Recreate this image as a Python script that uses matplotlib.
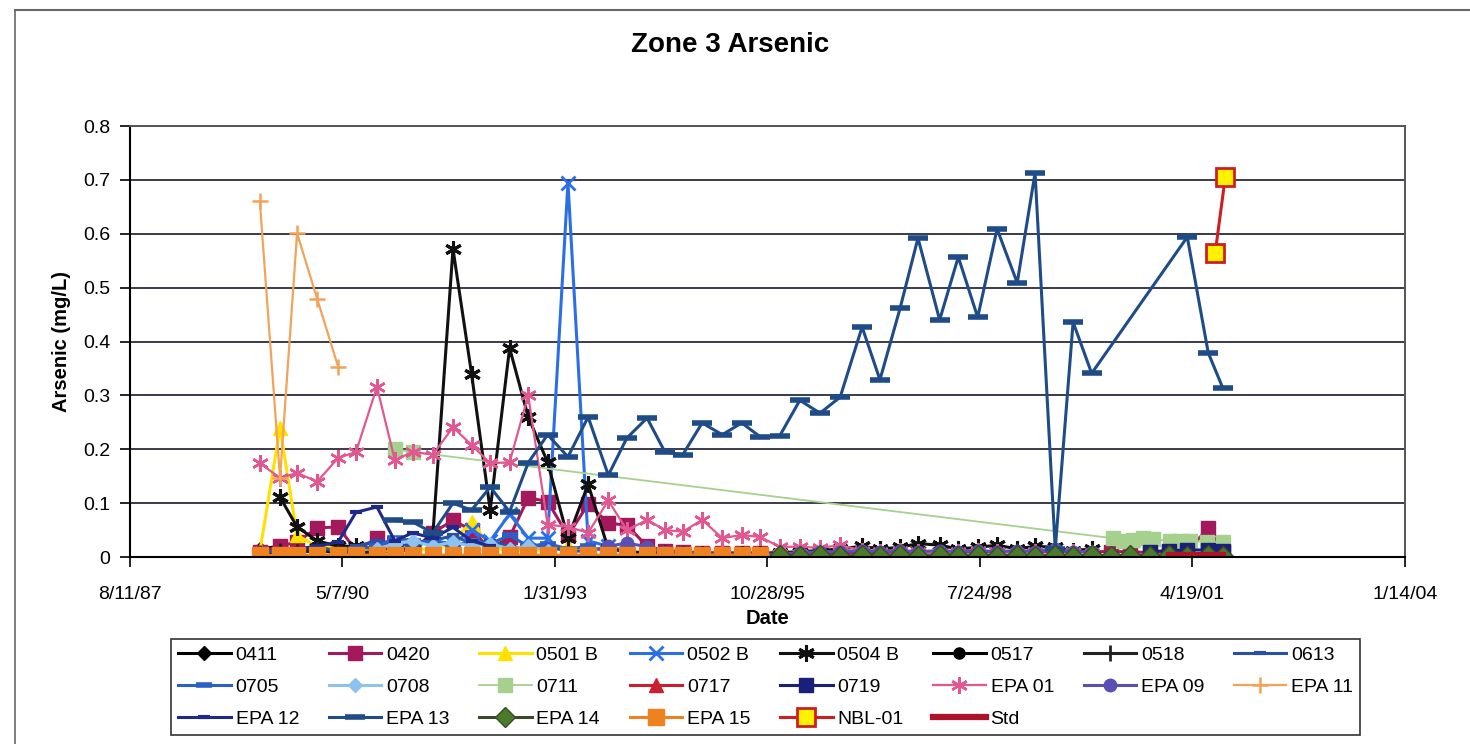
import datetime as dt
import matplotlib
matplotlib.use("Agg")
import matplotlib.pyplot as plt
import matplotlib.dates as mdates
from matplotlib.lines import Line2D

plt.rcParams["font.family"] = ["Liberation Sans", "DejaVu Sans"]

# sample dates are kept as decimal years, values in mg/L
d_0411 = [1989.28, 1989.54, 1989.76, 1990.02, 1990.29, 1990.52, 1990.79, 1991.02]
v_0411 = [0.015, 0.020, 0.012, 0.010, 0.015, 0.010, 0.012, 0.010]

d_0420 = [1989.28, 1989.54, 1989.76, 1990.02, 1990.29, 1990.52, 1990.79, 1991.02, 1991.25,
          1991.51, 1991.77, 1992.01, 1992.25, 1992.50, 1992.74, 1992.99, 1993.25, 1993.51,
          1993.77, 1994.01, 1994.27, 1994.50, 1994.73, 1994.98, 1995.24, 1995.49, 1995.73,
          2000.25, 2000.50, 2000.75, 2001.00, 2001.23, 2001.50, 2001.69]
v_0420 = [0.010, 0.020, 0.028, 0.054, 0.056, 0.012, 0.035, 0.012, 0.012,
          0.045, 0.068, 0.050, 0.015, 0.037, 0.110, 0.103, 0.040, 0.098,
          0.063, 0.059, 0.020, 0.012, 0.010, 0.008, 0.008, 0.008, 0.008,
          0.010, 0.010, 0.008, 0.010, 0.010, 0.054, 0.010]

d_0501b = [1989.28, 1989.54, 1989.76, 1990.02, 1990.29, 1990.52, 1990.79, 1991.02, 1991.25,
           1991.51, 1991.77, 1992.01, 1992.25, 1992.50, 1992.74, 1992.99, 1993.25, 1993.51]
v_0501b = [0.010, 0.240, 0.040, 0.020, 0.020, 0.010, 0.015, 0.010, 0.020,
           0.010, 0.030, 0.065, 0.020, 0.010, 0.015, 0.010, 0.020, 0.010]

d_0502b = [1991.25, 1991.51, 1991.77, 1992.01, 1992.25, 1992.50, 1992.74, 1992.99,
           1993.25, 1993.51, 1993.77, 1994.01]
v_0502b = [0.020, 0.030, 0.025, 0.050, 0.030, 0.080, 0.035, 0.035,
           0.695, 0.030, 0.020, 0.010]

d_0504b = [1989.54, 1989.76, 1990.02, 1990.29, 1990.52, 1990.79, 1991.02, 1991.25, 1991.51,
           1991.77, 1992.01, 1992.25, 1992.50, 1992.74, 1992.99, 1993.25, 1993.51, 1993.77,
           1994.01, 1994.27, 1994.50, 1994.73, 1994.98, 1995.24, 1995.49, 1995.73, 1995.98,
           1996.24, 1996.50, 1996.76, 1997.04, 1997.27, 1997.53, 1997.76, 1998.04, 1998.28,
           1998.53, 1998.78, 1999.04, 1999.27, 1999.53, 1999.76, 2000.00]
v_0504b = [0.111, 0.056, 0.030, 0.020, 0.020, 0.015, 0.015, 0.015, 0.040,
           0.572, 0.340, 0.087, 0.388, 0.260, 0.176, 0.035, 0.135, 0.015,
           0.010, 0.008, 0.008, 0.006, 0.006, 0.006, 0.006, 0.005, 0.008,
           0.010, 0.012, 0.015, 0.020, 0.015, 0.018, 0.025, 0.022, 0.015,
           0.018, 0.022, 0.015, 0.020, 0.018, 0.012, 0.015]

d_0517 = [1989.28, 1989.54, 1989.76, 1990.02, 1990.29, 1990.52, 1990.79]
v_0517 = [0.005, 0.008, 0.010, 0.012, 0.008, 0.010, 0.006]

d_0518 = [1989.28, 1989.54, 1989.76, 1990.02, 1990.29, 1990.52, 1990.79]
v_0518 = [0.008, 0.012, 0.010, 0.015, 0.010, 0.008, 0.010]

d_0613 = [1989.28, 1989.54, 1989.76, 1990.02, 1990.29, 1990.52, 1990.79, 1991.02, 1991.25,
          1991.51, 1991.77, 1992.01, 1992.25, 1992.50, 1992.74, 1992.99, 1993.25, 1993.51]
v_0613 = [0.008, 0.012, 0.015, 0.020, 0.010, 0.020, 0.030, 0.025, 0.020,
          0.030, 0.040, 0.025, 0.030, 0.020, 0.015, 0.020, 0.010, 0.012]

d_0705 = [1990.52, 1990.79, 1991.02, 1991.25, 1991.51, 1991.77, 1992.01, 1992.25, 1992.50,
          1992.74, 1992.99, 1993.25, 1993.51, 1993.77]
v_0705 = [0.015, 0.020, 0.035, 0.030, 0.028, 0.020, 0.030, 0.025, 0.040,
          0.020, 0.025, 0.015, 0.020, 0.010]

d_0708 = [1990.79, 1991.02, 1991.25, 1991.51, 1991.77, 1992.01, 1992.25, 1992.50, 1992.74,
          1992.99]
v_0708 = [0.015, 0.025, 0.030, 0.020, 0.028, 0.020, 0.025, 0.015, 0.020, 0.012]

d_0711 = [1991.02, 1991.25, 2000.27, 2000.40, 2000.53, 2000.66, 2000.79, 2001.01, 2001.14,
          2001.27, 2001.48, 2001.69]
v_0711 = [0.200, 0.195, 0.035, 0.030, 0.032, 0.035, 0.033, 0.030, 0.030,
          0.030, 0.028, 0.028]

d_0717 = [2000.25, 2000.50, 2000.75, 2001.00, 2001.23, 2001.50, 2001.69]
v_0717 = [0.003, 0.003, 0.002, 0.003, 0.003, 0.002, 0.003]

d_0719 = [2000.75, 2001.00, 2001.23, 2001.50, 2001.69]
v_0719 = [0.010, 0.012, 0.013, 0.013, 0.012]

d_epa01 = [1989.28, 1989.54, 1989.76, 1990.02, 1990.29, 1990.52, 1990.79, 1991.02, 1991.25,
           1991.51, 1991.77, 1992.01, 1992.25, 1992.50, 1992.74, 1992.99, 1993.25, 1993.51,
           1993.77, 1994.01, 1994.27, 1994.50, 1994.73, 1994.98, 1995.24, 1995.49, 1995.73,
           1995.98, 1996.24, 1996.50, 1996.76, 1997.04, 1997.27, 1997.53, 1997.76, 1998.04,
           1998.28, 1998.53, 1998.78, 1999.04, 1999.27, 1999.53, 1999.76, 2000.00]
v_epa01 = [0.174, 0.147, 0.156, 0.140, 0.184, 0.195, 0.316, 0.180, 0.195,
           0.190, 0.241, 0.208, 0.174, 0.176, 0.300, 0.060, 0.056, 0.045,
           0.105, 0.050, 0.069, 0.050, 0.047, 0.069, 0.035, 0.041, 0.037,
           0.019, 0.019, 0.017, 0.022, 0.012, 0.010, 0.012, 0.010, 0.008,
           0.010, 0.012, 0.010, 0.008, 0.010, 0.012, 0.010, 0.008]

d_epa09 = [1993.51, 1993.77, 1994.01, 1994.27, 1994.50, 1994.73, 1994.98, 1995.24, 1995.49,
           1995.73, 1995.98, 1996.24, 1996.50, 1996.76, 1997.04, 1997.27, 1997.53, 1997.76,
           1998.04, 1998.28, 1998.53, 1998.78, 1999.04, 1999.27, 1999.53, 1999.76, 2000.00]
v_epa09 = [0.010, 0.020, 0.026, 0.019, 0.010, 0.008, 0.006, 0.006, 0.005,
           0.005, 0.006, 0.008, 0.010, 0.010, 0.012, 0.010, 0.012, 0.010,
           0.012, 0.010, 0.012, 0.010, 0.012, 0.010, 0.015, 0.010, 0.010]

d_epa11 = [1989.28, 1989.54, 1989.76, 1990.02, 1990.29]
v_epa11 = [0.660, 0.147, 0.601, 0.479, 0.353]

d_epa12 = [1989.54, 1989.76, 1990.02, 1990.29, 1990.52, 1990.79, 1991.02, 1991.25, 1991.51,
           1991.77, 1992.01, 1992.25]
v_epa12 = [0.010, 0.015, 0.020, 0.028, 0.083, 0.093, 0.030, 0.045, 0.035,
           0.055, 0.030, 0.020]

d_epa13 = [1991.00, 1991.25, 1991.51, 1991.77, 1992.01, 1992.25, 1992.50, 1992.74, 1992.99,
           1993.25, 1993.51, 1993.77, 1994.01, 1994.27, 1994.50, 1994.73, 1994.98, 1995.24,
           1995.49, 1995.73, 1995.98, 1996.24, 1996.50, 1996.76, 1997.04, 1997.27, 1997.53,
           1997.76, 1998.04, 1998.28, 1998.53, 1998.78, 1999.04, 1999.27, 1999.53, 1999.76,
           2000.00, 2001.23, 2001.50, 2001.69]
v_epa13 = [0.068, 0.065, 0.045, 0.100, 0.087, 0.130, 0.084, 0.175, 0.227,
           0.186, 0.260, 0.152, 0.221, 0.258, 0.195, 0.190, 0.249, 0.227,
           0.249, 0.223, 0.225, 0.291, 0.267, 0.297, 0.427, 0.329, 0.462,
           0.592, 0.440, 0.557, 0.445, 0.609, 0.509, 0.713, 0.015, 0.436,
           0.341, 0.594, 0.379, 0.313]

d_epa14 = [1995.98, 1996.24, 1996.50, 1996.76, 1997.04, 1997.27, 1997.53, 1997.76, 1998.04,
           1998.28, 1998.53, 1998.78, 1999.04, 1999.27, 1999.53, 1999.76, 2000.00, 2000.25,
           2000.50, 2000.75, 2001.00, 2001.23, 2001.50, 2001.69]
v_epa14 = [0.003, 0.002, 0.003, 0.002, 0.003, 0.002, 0.003, 0.002, 0.003,
           0.002, 0.003, 0.002, 0.003, 0.002, 0.003, 0.002, 0.003, 0.002,
           0.003, 0.002, 0.003, 0.002, 0.003, 0.002]

d_epa15 = [1989.28, 1989.54, 1989.76, 1990.02, 1990.29, 1990.52, 1990.79, 1991.02, 1991.25,
           1991.51, 1991.77, 1992.01, 1992.25, 1992.50, 1992.74, 1992.99, 1993.25, 1993.51,
           1993.77, 1994.01, 1994.27, 1994.50, 1994.73, 1994.98, 1995.24, 1995.49, 1995.73]
v_epa15 = [0.004, 0.003, 0.004, 0.003, 0.004, 0.003, 0.004, 0.003, 0.004,
           0.003, 0.004, 0.003, 0.004, 0.003, 0.004, 0.003, 0.004, 0.003,
           0.004, 0.003, 0.004, 0.003, 0.004, 0.003, 0.004, 0.003, 0.004]

d_nbl01 = [2001.59, 2001.72]
v_nbl01 = [0.565, 0.706]

d_std = [2001.00, 2001.69]
v_std = [0.004, 0.004]

# legend rows as they appear in the chart
legend_rows = [
    ["0411", "0420", "0501 B", "0502 B", "0504 B", "0517", "0518", "0613"],
    ["0705", "0708", "0711", "0717", "0719", "EPA 01", "EPA 09", "EPA 11"],
    ["EPA 12", "EPA 13", "EPA 14", "EPA 15", "NBL-01", "Std"],
]

asterisk = (6, 2, 0)


def to_date(year):
    y = int(year)
    return dt.datetime(y, 1, 1) + dt.timedelta(days=(year - y) * 365.25)


fig = plt.figure(figsize=(14.7, 7.44), dpi=100)
ax = fig.add_axes([0.0884, 0.2513, 0.8673, 0.5793])

series = [
    ("0411", d_0411, v_0411, dict(color="black", marker="D", ms=7)),
    ("0420", d_0420, v_0420, dict(color="#A3195B", marker="s", ms=10)),
    ("0501 B", d_0501b, v_0501b, dict(color="#FFE100", marker="^", ms=10)),
    ("0502 B", d_0502b, v_0502b, dict(color="#2A6FE8", marker="x", ms=10, mew=2)),
    ("0504 B", d_0504b, v_0504b, dict(color="#111111", marker=asterisk, ms=12, mew=2.2)),
    ("0517", d_0517, v_0517, dict(color="black", marker="o", ms=8)),
    ("0518", d_0518, v_0518, dict(color="#222222", marker="|", ms=12, mew=2)),
    ("0613", d_0613, v_0613, dict(color="#2850A8", marker="_", ms=9, mew=3)),
    ("0705", d_0705, v_0705, dict(color="#2B5FC7", marker="_", ms=12, mew=4)),
    ("0708", d_0708, v_0708, dict(color="#8EC3F0", marker="D", ms=7)),
    ("0711", d_0711, v_0711, dict(color="#A6D08E", marker="s", ms=10, lw=1.3)),
    ("0717", d_0717, v_0717, dict(color="#C8202E", marker="^", ms=10)),
    ("0719", d_0719, v_0719, dict(color="#1A1F7A", marker="s", ms=10)),
    ("EPA 01", d_epa01, v_epa01, dict(color="#E0588F", marker=asterisk, ms=12, mew=1.8, lw=1.6)),
    ("EPA 09", d_epa09, v_epa09, dict(color="#5A4FB5", marker="o", ms=9)),
    ("EPA 11", d_epa11, v_epa11, dict(color="#F2A35A", marker="+", ms=12, mew=1.8, lw=1.6)),
    ("EPA 12", d_epa12, v_epa12, dict(color="#1E2A88", marker="_", ms=9, mew=3)),
    ("EPA 13", d_epa13, v_epa13, dict(color="#1F4C88", marker="_", ms=14, mew=4)),
    ("EPA 14", d_epa14, v_epa14, dict(color="#3A4A2A", marker="D", ms=10, mfc="#4A7A2A")),
    ("EPA 15", d_epa15, v_epa15, dict(color="#EE8220", marker="s", ms=11)),
    ("NBL-01", d_nbl01, v_nbl01, dict(color="#D01E1E", marker="s", ms=13, mfc="#FFF200", mew=2)),
    ("Std", d_std, v_std, dict(color="#B0122A", lw=4.5)),
]

handles = {}
for name, d, v, style in series:
    style = dict(style)
    style.setdefault("lw", 2.2)
    line, = ax.plot([to_date(x) for x in d], v, label=name, **style)
    handles[name] = line

# axes setup (Excel style)
start = dt.datetime(1987, 8, 11)
ticks = [start + dt.timedelta(days=1000 * i) for i in range(7)]
ax.set_xlim(ticks[0], ticks[-1])
ax.set_xticks(ticks)
ax.xaxis.set_major_formatter(
    matplotlib.ticker.FuncFormatter(
        lambda x, pos: "{}/{}/{:02d}".format(
            mdates.num2date(x).month, mdates.num2date(x).day, mdates.num2date(x).year % 100
        )
    )
)
ax.set_ylim(0, 0.8)
ax.set_yticks([0, 0.1, 0.2, 0.3, 0.4, 0.5, 0.6, 0.7, 0.8])
ax.set_yticklabels(["0", "0.1", "0.2", "0.3", "0.4", "0.5", "0.6", "0.7", "0.8"])
ax.tick_params(axis="both", labelsize=14, length=7, width=1.2, direction="out")
ax.tick_params(axis="x", pad=14)
ax.tick_params(axis="y", pad=7)
ax.yaxis.grid(True, color="#3a3a4a", lw=1.4)
ax.set_axisbelow(True)
for side in ["top", "right"]:
    ax.spines[side].set_color("#555555")
    ax.spines[side].set_linewidth(1.4)
for side in ["left", "bottom"]:
    ax.spines[side].set_color("black")
    ax.spines[side].set_linewidth(1.5)

ax.set_xlabel("Date", fontsize=14.5, fontweight="bold", labelpad=4)
ax.set_ylabel("Arsenic (mg/L)", fontsize=14.5, fontweight="bold", labelpad=9)
fig.text(0.497, 1 - 45 / 744, "Zone 3 Arsenic", fontsize=20, fontweight="bold",
         ha="center", va="center")

# legend is filled column by column, so reorder to get the chart's row order
order = []
for c in range(8):
    for row in legend_rows:
        if c < len(row):
            order.append(row[c])
leg = fig.legend([handles[n] for n in order], order, loc="upper left",
                 bbox_to_anchor=(0.110, 0.154), bbox_transform=fig.transFigure,
                 ncol=8, fontsize=14, handlelength=2.7, handletextpad=0.25,
                 columnspacing=1.52, labelspacing=0.75, borderpad=0.35,
                 fancybox=False, edgecolor="#333333", framealpha=1)
leg.get_frame().set_linewidth(1.2)

# outer chart border
fig.add_artist(Line2D([15 / 1470, 15 / 1470], [0, 1 - 10 / 744], transform=fig.transFigure,
                      color="#666666", lw=1.2))
fig.add_artist(Line2D([15 / 1470, 1], [1 - 10 / 744, 1 - 10 / 744], transform=fig.transFigure,
                      color="#666666", lw=1.5))

fig.savefig("out.png", dpi=100)
